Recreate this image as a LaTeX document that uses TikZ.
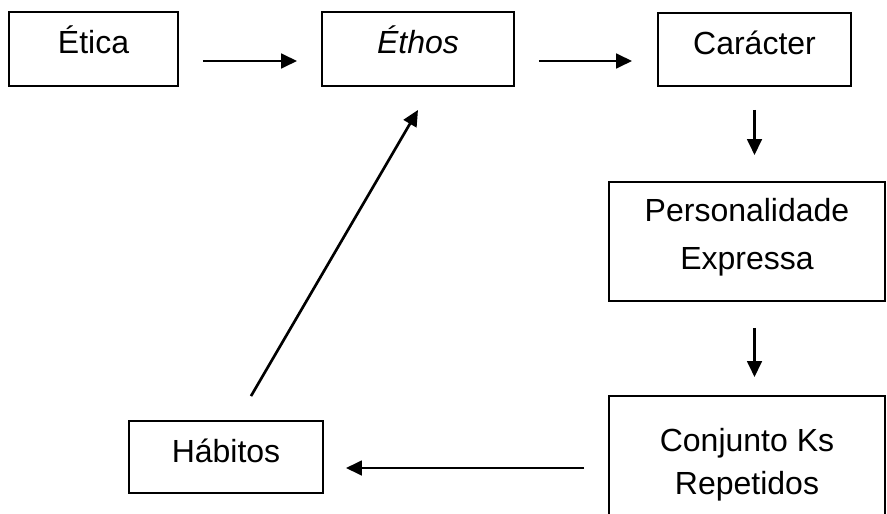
\documentclass[tikz,border=0pt]{standalone}
\usepackage{fontspec}
\setmainfont{Liberation Sans}
\usetikzlibrary{arrows.meta, positioning, calc}
\tikzset{
  box/.style={
    draw=black, line width=1.4pt, align=center, inner sep=0pt,
    font=\fontsize{24}{36}\selectfont
  },
  onebox/.style={box, text height=16.5pt, text depth=9pt},
  flow/.style={-{Triangle[length=12pt, width=11pt]}, line width=2pt}
}

\begin{document}
\begin{tikzpicture}[x=0.75pt, y=-0.75pt]
  \useasboundingbox (0,0) rectangle (887,513);
  \clip (0,0) rectangle (887,513);

  % ---- top row -------------------------------------------------------------
  \node[onebox, minimum width=126.75pt, minimum height=55.5pt] (etica) at (93.5,49) {Ética};
  \node[onebox, minimum width=144pt, minimum height=55.5pt] (ethos) at (418,49) {\textit{Éthos}};
  \node[onebox, minimum width=144.75pt, minimum height=54.75pt] (caracter) at (754.5,49.5) {Carácter};

  % ---- right column --------------------------------------------------------
  \node[box, text depth=11pt, minimum width=207pt, minimum height=89.25pt] (pers) at (747,241.5) {Personalidade\\Expressa};
  \node[box, font=\fontsize{24}{32}\selectfont, minimum width=207pt, minimum height=103.5pt] (conj) at (747,465) {Conjunto Ks\\Repetidos};

  % ---- bottom left ---------------------------------------------------------
  \node[onebox, minimum width=145.5pt, minimum height=54pt] (habitos) at (226,457) {Hábitos};

  % ---- arrows --------------------------------------------------------------
  \draw[flow] ([shift={(24,12)}]etica.east) -- ([shift={(-24,12)}]ethos.west);
  \draw[flow] ([shift={(24,12)}]ethos.east) -- ([shift={(-25,11.5)}]caracter.west);
  \draw[flow] ([shift={(0,23)}]caracter.south) -- ($(caracter.south |- pers.north)+(0,-26)$);
  \draw[flow] ($(caracter.south |- pers.south)+(0,26)$) -- ($(caracter.south |- conj.north)+(0,-18)$);
  \draw[flow] ([shift={(-24,3)}]conj.west) -- ([shift={(22,11)}]habitos.east);
  \draw[flow] ([shift={(25,-24)}]habitos.north) -- ([shift={(0,23)}]ethos.south);

\end{tikzpicture}
\end{document}
